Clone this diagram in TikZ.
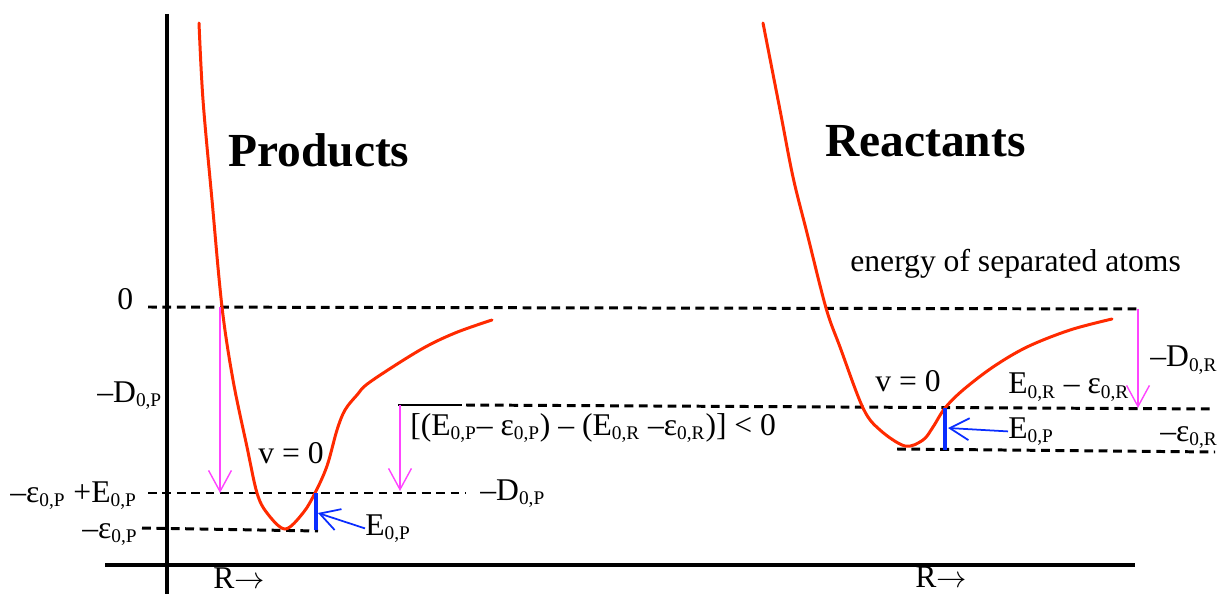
\documentclass[tikz,border=0pt]{standalone}
\usepackage{fontspec}
\setmainfont{Liberation Serif}
\usetikzlibrary{arrows.meta}
\definecolor{wellred}{HTML}{FF2A00}
\definecolor{dropmag}{HTML}{FF44FF}
\definecolor{zpeblue}{HTML}{0A2DFF}
\newcommand{\ix}[1]{\textsubscript{\fontsize{11}{12}\selectfont #1}}
\tikzset{
  axis/.style={line width=2pt},
  level/.style={line width=1.7pt, dash pattern=on 5pt off 3.2pt},
  well/.style={wellred, line width=1.7pt, line cap=round},
  darr/.style={-{Straight Barb[length=12pt, width=13pt]}, dropmag, line width=0.8pt},
  barr/.style={-{Straight Barb[length=11pt, width=12.5pt]}, zpeblue, line width=1pt},
  zbar/.style={zpeblue, line width=2.6pt},
  lbl/.style={anchor=base west, inner sep=0pt, font=\fontsize{18}{20}\selectfont},
  ttl/.style={anchor=base west, inner sep=0pt, font=\fontsize{27}{30}\selectfont\bfseries},
}

\begin{document}
\begin{tikzpicture}[x=0.02cm, y=-0.02cm]
  \useasboundingbox (0,0) rectangle (1220,594);

  % Axes
  \draw[axis] (167,14) -- (167,594);
  \draw[axis] (105,565) -- (1135,565);

  % Energy levels
  \draw[level] (148,307) -- (1140,309);
  \draw[level] (148,493) -- (465,493);
  \draw[level] (142,528) -- (318,531);
  \draw[line width=0.6pt] (398,405) -- (462,405);
  \draw[level] (466,405) -- (1215,409);
  \draw[level] (897,449) -- (1215,452);

  % Products well
  \draw[well] plot[smooth, tension=0.55] coordinates {
    (199,23) (203,100) (212,200) (222,307) (233,380) (247,447) (257,493)
    (267,513) (285,529) (303,513) (315,493) (327,466) (337,430) (345,410)
    (357,395) (370,382) (420,350) (455,333) (492,320)};

  % Reactants well
  \draw[well] plot[smooth, tension=0.55] coordinates {
    (763,23) (780,110) (793,177) (807,233) (826,308) (840,347) (863,408)
    (880,430) (905,446) (923,440) (933,427) (945,408) (963,390) (993,367)
    (1027,347) (1070,330) (1112,319)};

  % Titles
  \node[ttl] (prod) at (228,167) {Products};
  \node[ttl] (reac) at (825,157) {Reactants};
  \node[lbl] (sep) at (850,272) {energy of separated atoms};

  % Left labels
  \node[lbl] (zero) at (117,310) {0};
  \node[lbl] (dP) at (97,402) {–D\ix{0,P}};
  \node[lbl] (epsEP) at (10,502) {–ε\ix{0,P} +E\ix{0,P}};
  \node[lbl] (epsP) at (82,538) {–ε\ix{0,P}};
  \node[lbl] (vP) at (258,463) {v = 0};
  \node[lbl] (dPm) at (480,500) {–D\ix{0,P}};
  \node[lbl] (eP) at (365,535) {E\ix{0,P}};
  \node[lbl] (diff) at (410,435)
    {[(E\ix{0,P}– ε\ix{0,P}) – (E\ix{0,R} –ε\ix{0,R})] < 0};

  % Right labels
  \node[lbl] (dR) at (1150,367) {–D\ix{0,R}};
  \node[lbl] (eR) at (1008,394) {E\ix{0,R} – ε\ix{0,R}};
  \node[lbl] (vR) at (875,392) {v = 0};
  \node[lbl] (eR2) at (1008,438) {E\ix{0,P}};
  \node[lbl] (epsR) at (1160,441) {–ε\ix{0,R}};

  % Axis labels
  \node[lbl] (rL) at (213,588) {R$\rightarrow$};
  \node[lbl] (rR) at (915,587) {R$\rightarrow$};

  % Dissociation drops
  \coordinate (topP) at (220,307);
  \coordinate (botP) at (220,493);
  \coordinate (topM) at (400,405);
  \coordinate (botM) at (400,491);
  \coordinate (topR) at (1138,309);
  \coordinate (botR) at (1138,408);
  \draw[darr] (topP) -- (botP);
  \draw[darr] (topM) -- (botM);
  \draw[darr] (topR) -- (botR);

  % Zero point bars
  \coordinate (zbP1) at (316,493);
  \coordinate (zbP2) at (316,530);
  \coordinate (zbR1) at (945,408);
  \coordinate (zbR2) at (945,450);
  \draw[zbar] (zbP1) -- (zbP2);
  \draw[zbar] (zbR1) -- (zbR2);
  \draw[barr] (eP.west) -- (318,513);
  \draw[barr] (eR2.west) -- (948,428);
\end{tikzpicture}
\end{document}
